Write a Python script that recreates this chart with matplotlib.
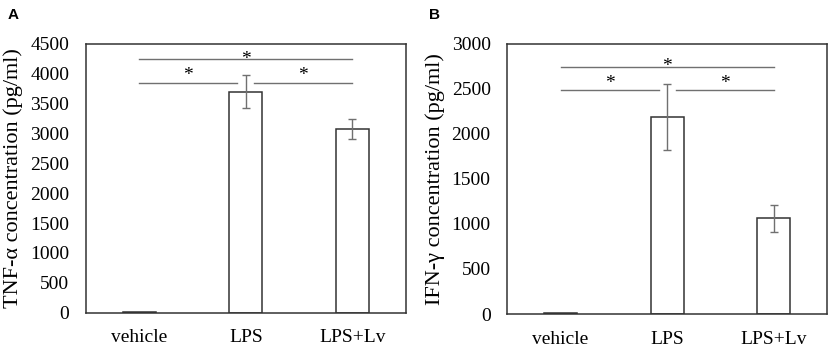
import matplotlib
matplotlib.use("Agg")
import matplotlib.pyplot as plt
import numpy as np

plt.rcParams['font.family'] = ['Liberation Serif', 'DejaVu Serif']

groups = ["vehicle", "LPS", "LPS+Lv"]

tnf_mean = [15, 3700, 3070]
tnf_err = [5, 280, 170]

ifn_mean = [8, 2190, 1060]
ifn_err = [3, 365, 150]

# significance brackets: (start, end, y level)
tnf_sig = [(0, 2, 4240), (0, 0.92, 3850), (1.08, 2, 3850)]
ifn_sig = [(0, 2, 2745), (0, 0.92, 2483), (1.08, 2, 2483)]
star_lift = [0, 5, 5]   # points above the line

edge = "#333333"
grey = "#707070"


def panel(ax, means, errs, sig, ymax, step, ylabel, letter):
    x = np.arange(len(groups))
    ax.bar(x, means, width=0.31, color="white", edgecolor=edge, linewidth=1.1, zorder=2)
    ax.errorbar(x[1:], means[1:], yerr=errs[1:], fmt="none", ecolor=grey,
                elinewidth=1.0, capsize=3, capthick=1.0, zorder=3)
    for (x0, x1, y), lift in zip(sig, star_lift):
        ax.plot([x0, x1], [y, y], color=grey, linewidth=1.0, zorder=1)
        ax.annotate("*", ((x0 + x1) / 2, y), xytext=(0, lift), textcoords="offset points",
                    ha="center", va="center", fontsize=14)
    ax.set_xlim(-0.5, 2.5)
    ax.set_ylim(0, ymax)
    ax.set_yticks(np.arange(0, ymax + 1, step))
    ax.set_xticks(x)
    ax.set_xticklabels(groups)
    ax.tick_params(length=0, labelsize=14)
    ax.tick_params(axis="y", pad=12)
    ax.tick_params(axis="x", pad=12)
    for s in ax.spines.values():
        s.set_color(edge)
        s.set_linewidth(1.1)
    ax.set_ylabel(ylabel, fontsize=16, labelpad=5)
    ax.figure.text(ax.get_position().x0 - 0.094, 0.978, letter, fontsize=11,
                   fontweight="bold", family="Liberation Sans", va="top")


fig = plt.figure(figsize=(8.29, 3.48), dpi=100)
ax1 = fig.add_axes([0.1037, 0.1014, 0.3857, 0.773])
ax2 = fig.add_axes([0.612, 0.0977, 0.3853, 0.7767])

panel(ax1, tnf_mean, tnf_err, tnf_sig, 4500, 500, "TNF-α concentration (pg/ml)", "A")
panel(ax2, ifn_mean, ifn_err, ifn_sig, 3000, 500, "IFN-γ concentration (pg/ml)", "B")

fig.savefig("out.png", dpi=100)
